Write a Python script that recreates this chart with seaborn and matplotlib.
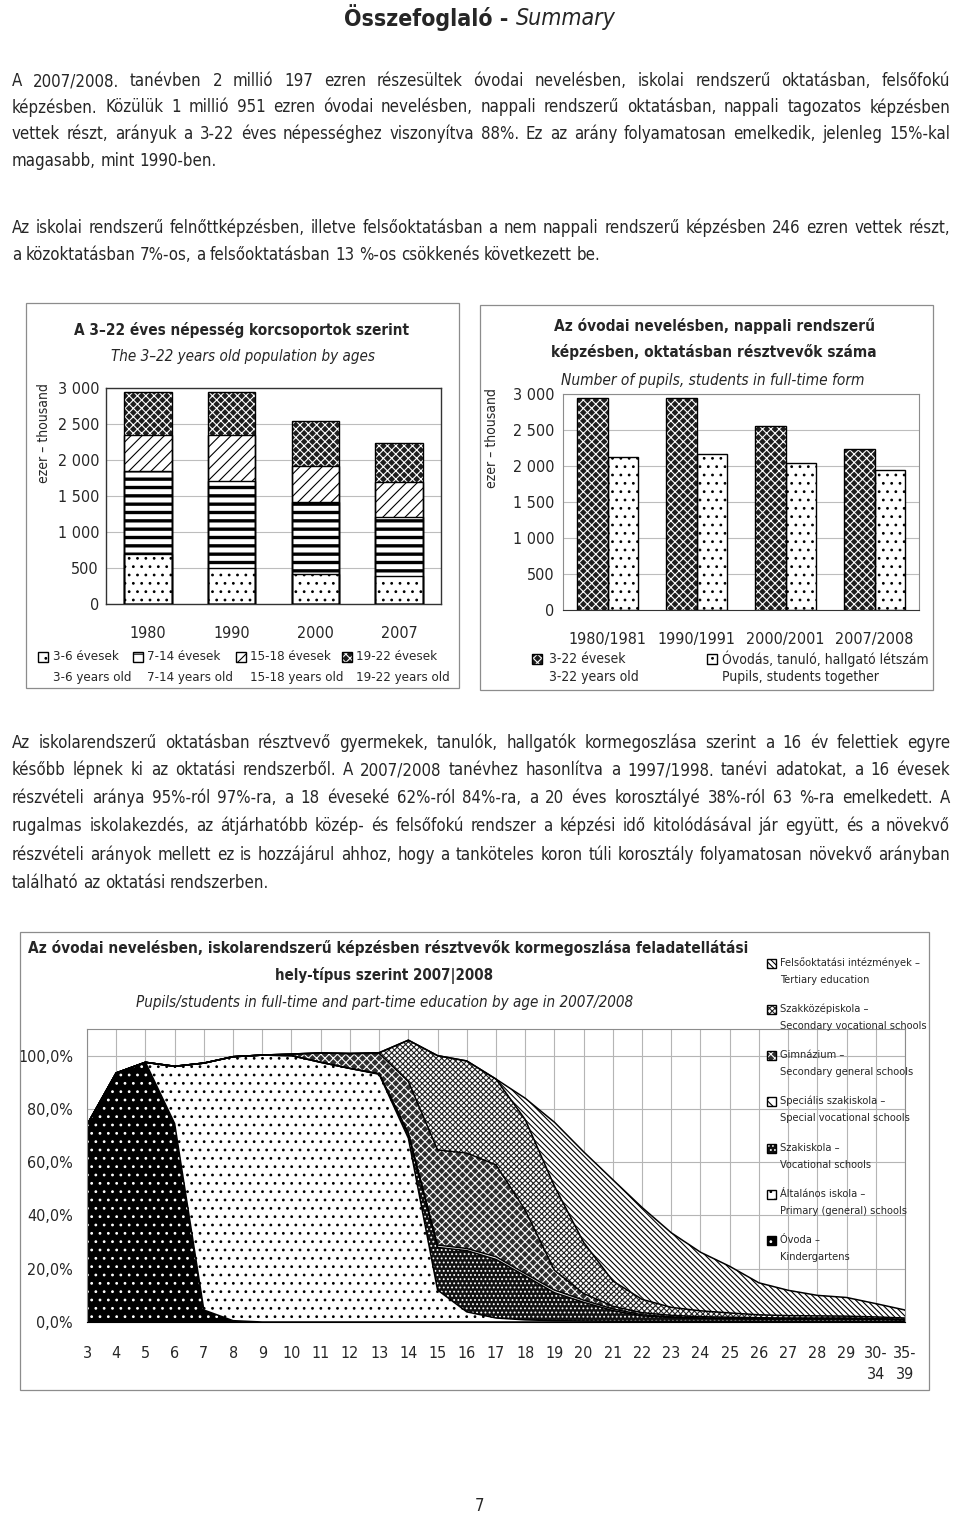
import numpy as np
import pandas as pd
import matplotlib
matplotlib.use('Agg')
import matplotlib.pyplot as plt
import matplotlib.font_manager as fm
from matplotlib.patches import Rectangle
import seaborn as sns

# oldal mérete pixelben
W, H = 960, 1515

# ---------------- adatok ----------------
# 1. ábra: 3-22 éves népesség korcsoportok szerint (ezer fő)
years = ['1980', '1990', '2000', '2007']
pop_3_6 = [697, 498, 415, 392]
pop_7_14 = [1149, 1209, 997, 822]
pop_15_18 = [508, 647, 508, 480]
pop_19_22 = [586, 586, 627, 544]

# 2. ábra: nappali rendszerű képzésben résztvevők (ezer fő)
school_years = ['1980/1981', '1990/1991', '2000/2001', '2007/2008']
pop_3_22 = [2950, 2950, 2550, 2230]
pupils_total = [2130, 2170, 2035, 1951]

# 3. ábra: kormegoszlás feladatellátási hely-típus szerint (%)
ages = ['3', '4', '5', '6', '7', '8', '9', '10', '11', '12', '13', '14', '15', '16',
        '17', '18', '19', '20', '21', '22', '23', '24', '25', '26', '27', '28', '29',
        '30-\n34', '35-\n39']
ovoda = [74, 93.5, 97.5, 74.5, 4.5, 0.5, 0, 0, 0, 0, 0, 0, 0, 0,
         0, 0, 0, 0, 0, 0, 0, 0, 0, 0, 0, 0, 0, 0, 0]
altalanos = [0, 0, 0, 21.5, 92.7, 99.1, 100.2, 100, 97.5, 95.2, 93, 69, 12, 3.8,
             1.5, 0.8, 0.5, 0.4, 0.3, 0.3, 0.3, 0.3, 0.3, 0.3, 0.3, 0.3, 0.3, 0.3, 0.2]
szakiskola = [0, 0, 0, 0, 0, 0, 0, 0, 0, 0, 0.2, 1.5, 16, 23,
              22, 16.5, 10.5, 7, 4, 2, 1.4, 1.1, 1, 0.9, 0.8, 0.8, 0.8, 0.7, 0.6]
spec_szakiskola = [0, 0, 0, 0, 0, 0, 0, 0, 0, 0, 0, 0.5, 0.9, 0.8,
                   1.0, 0.9, 1.0, 0.8, 0.6, 0.4, 0.2, 0.1, 0.1, 0.1, 0.1, 0.1, 0.1, 0.1, 0]
gimnazium = [0, 0, 0, 0, 0, 0, 0, 0.6, 3.5, 5.6, 7.6, 19.3, 35.7, 35.8,
             34.5, 23.8, 7.4, 2.5, 1.0, 0.8, 0.6, 0.5, 0.4, 0.3, 0.3, 0.3, 0.3, 0.2, 0.2]
szakkozep = [0, 0, 0, 0, 0, 0, 0, 0, 0, 0, 0.3, 15.5, 35.4, 34.6,
             32.2, 34, 31.6, 19.2, 9.5, 5, 3, 2.2, 1.6, 1.1, 0.9, 0.8, 0.7, 0.6, 0.5]
felsooktatas = [0, 0, 0, 0, 0, 0, 0, 0, 0, 0, 0, 0, 0, 0,
                0, 8, 24, 34, 38, 34.5, 28, 22, 17.5, 12, 9.5, 7.7, 7, 5, 3]

# ---------------- stílus ----------------
sns.set_style('white')
names = {f.name for f in fm.fontManager.ttflist}
if 'Liberation Sans Narrow' in names:
    plt.rcParams['font.family'] = ['Liberation Sans Narrow', 'DejaVu Sans']
else:
    plt.rcParams['font.family'] = ['DejaVu Sans']
    if any(f.name == 'DejaVu Sans' and str(f.stretch) == 'condensed' for f in fm.fontManager.ttflist):
        plt.rcParams['font.stretch'] = 'condensed'
plt.rcParams['hatch.linewidth'] = 0.8

fig = plt.figure(figsize=(W / 100, H / 100), dpi=100)
renderer = fig.canvas.get_renderer()


def fx(x):
    return x / W


def fy(y):
    return 1 - y / H


def axbox(l, t, r, b):
    return [fx(l), fy(b), (r - l) / W, (b - t) / H]


def txt(x, y, s, size=11, ha='left', va='center', **kw):
    return fig.text(fx(x), fy(y), s, fontsize=size, ha=ha, va=va, **kw)


def fit(xc, y, s, width, maxsize, **kw):
    # betűméret igazítása a célszélességhez
    t = txt(xc, y, s, 10, ha='center', **kw)
    w = t.get_window_extent(renderer).width
    t.set_fontsize(min(maxsize, 10 * width / w))
    return t


def frame(l, t, r, b, color='#8c8c8c', lw=0.9):
    fig.add_artist(Rectangle((fx(l), fy(b)), (r - l) / W, (b - t) / H,
                             transform=fig.transFigure, fill=False, ec=color, lw=lw))


def swatch(x, y, style, size=10):
    face, hatch, hc = style
    xy = (fx(x), fy(y + size / 2))
    fig.add_artist(Rectangle(xy, size / W, size / H, transform=fig.transFigure,
                             fc=face, ec=hc, hatch=hatch, lw=0))
    fig.add_artist(Rectangle(xy, size / W, size / H, transform=fig.transFigure,
                             fill=False, ec='black', lw=1))


def style_patch(p, style, hlw=None):
    face, hatch, hc = style
    p.set_facecolor(face)
    p.set_edgecolor(hc)
    p.set_hatch(hatch)
    p.set_linewidth(0)
    if hlw is not None and hasattr(p, 'set_hatch_linewidth'):
        p.set_hatch_linewidth(hlw)


def outline(ax, patches):
    for p in patches:
        ax.add_patch(Rectangle(p.get_xy(), p.get_width(), p.get_height(),
                               fill=False, ec='black', lw=1, zorder=3))


# ---------------- szövegek ----------------
par_lines = [
    "A 2007/2008. tanévben 2 millió 197 ezren részesültek óvodai nevelésben, iskolai rendszerű oktatásban, felsőfokú",
    "képzésben. Közülük 1 millió 951 ezren óvodai nevelésben, nappali rendszerű oktatásban, nappali tagozatos képzésben",
    "vettek részt, arányuk a 3-22 éves népességhez viszonyítva 88%. Ez az arány folyamatosan emelkedik, jelenleg 15%-kal",
    "magasabb, mint 1990-ben.",
]
par2_lines = [
    "Az iskolai rendszerű felnőttképzésben, illetve felsőoktatásban a nem nappali rendszerű képzésben 246 ezren vettek részt,",
    "a közoktatásban 7%-os, a felsőoktatásban 13 %-os csökkenés következett be.",
]
par3_lines = [
    "Az iskolarendszerű oktatásban résztvevő gyermekek, tanulók, hallgatók kormegoszlása szerint a 16 év felettiek egyre",
    "később lépnek ki az oktatási rendszerből. A 2007/2008 tanévhez hasonlítva a 1997/1998. tanévi adatokat, a 16 évesek",
    "részvételi aránya 95%-ról 97%-ra, a 18 éveseké 62%-ról 84%-ra, a 20 éves korosztályé 38%-ról 63 %-ra emelkedett. A",
    "rugalmas iskolakezdés, az átjárhatóbb közép- és felsőfokú rendszer a képzési idő kitolódásával jár együtt, és a növekvő",
    "részvételi arányok mellett ez is hozzájárul ahhoz, hogy a tanköteles koron túli korosztály folyamatosan növekvő arányban",
    "található az oktatási rendszerben.",
]

X0, X1 = 12, 950
# közös betűméret: a leghosszabb sor is férjen ki
probe = [txt(0, -50, s, 10) for s in par_lines + par2_lines + par3_lines]
maxw = max(t.get_window_extent(renderer).width for t in probe)
for t in probe:
    t.remove()
body_size = min(12.5, 10 * (X1 - X0) / maxw * 0.985)


def put_line(s, y, justify):
    words = s.split(' ')
    ts = [txt(X0, y, w_, body_size) for w_ in words]
    ws = [t.get_window_extent(renderer).width for t in ts]
    if justify and len(words) > 1:
        gap = (X1 - X0 - sum(ws)) / (len(words) - 1)
    else:
        gap = body_size * 100 / 72 * 0.27
    x = X0
    for t, w_ in zip(ts, ws):
        t.set_x(fx(x))
        x += w_ + gap


def paragraph(lines, ys):
    for i, (s, y) in enumerate(zip(lines, ys)):
        put_line(s, y, i < len(lines) - 1)


paragraph(par_lines, [81, 107.5, 134, 161])
paragraph(par2_lines, [228, 255])
paragraph(par3_lines, [743, 770, 798, 826, 855, 883])

# oldalcím
t1 = txt(0, 18, "Összefoglaló - ", 10, fontweight='bold')
t2 = txt(0, 18, "Summary", 10, fontstyle='italic')
w_tot = t1.get_window_extent(renderer).width + t2.get_window_extent(renderer).width
ts_ = min(21, 10 * 270 / w_tot)
t1.set_fontsize(ts_)
t2.set_fontsize(ts_)
w1 = t1.get_window_extent(renderer).width
w2 = t2.get_window_extent(renderer).width
t1.set_x(fx(480 - (w1 + w2) / 2))
t2.set_x(fx(480 - (w1 + w2) / 2 + w1))

txt(480, 1506, "7", 12, ha='center')

# ---------------- 1. ábra: halmozott oszlopok ----------------
frame(26, 303, 459, 688)
ax1 = fig.add_axes(axbox(106, 388, 441, 604))
groups = ['3-6', '7-14', '15-18', '19-22']
df_pop = pd.DataFrame({'year': years, '3-6': pop_3_6, '7-14': pop_7_14,
                       '15-18': pop_15_18, '19-22': pop_19_22})
cum = df_pop[groups].cumsum(axis=1)
styles1 = {
    '3-6': ('white', '..', 'black'),
    '7-14': ('white', '--', 'black'),
    '15-18': ('white', '///', 'black'),
    '19-22': ('#1e1e1e', 'xxxx', 'white'),
}
bars1 = []
for g in reversed(groups):
    sns.barplot(x=df_pop['year'], y=cum[g], ax=ax1, color='white', width=0.57, errorbar=None)
    for p in ax1.containers[-1]:
        style_patch(p, styles1[g], hlw=2.4 if g == '7-14' else None)
        bars1.append(p)
outline(ax1, bars1)
ax1.set_ylim(0, 3000)
ax1.set_xlim(-0.5, 3.5)
ax1.set_yticks(range(0, 3001, 500))
ax1.set_yticklabels(['0', '500', '1 000', '1 500', '2 000', '2 500', '3 000'])
ax1.set_xticks(range(4))
ax1.set_xticklabels(years)
ax1.set_xticks([-0.5, 0.5, 1.5, 2.5, 3.5], minor=True)
ax1.tick_params(axis='x', which='major', length=0, pad=16, labelsize=11.5)
ax1.tick_params(axis='x', which='minor', length=4, color='#808080', direction='out')
ax1.tick_params(axis='y', length=0, pad=5, labelsize=11.5)
ax1.set_xlabel('')
ax1.set_ylabel('')
ax1.yaxis.grid(True, color='#bdbdbd', lw=0.8)
ax1.set_axisbelow(True)
for sp in ax1.spines.values():
    sp.set_color('#333333')
    sp.set_linewidth(1)

fit(242, 330, "A 3–22 éves népesség korcsoportok szerint", 334, 13, fontweight='bold')
fit(243, 357, "The 3–22 years old population by ages", 263, 12, fontstyle='italic')
txt(44, 433, "ezer – thousand", 10, ha='center', rotation=90)

leg1_hu = ['3-6 évesek', '7-14 évesek', '15-18 évesek', '19-22 évesek']
leg1_en = ['3-6 years old', '7-14 years old', '15-18 years old', '19-22 years old']
for g, hu, en, xs, xt in zip(groups, leg1_hu, leg1_en, [38, 133, 236, 342], [53, 147, 250, 356]):
    swatch(xs, 657, styles1[g])
    txt(xt, 657, hu, 9.5)
    txt(xt, 677, en, 9.5)

# ---------------- 2. ábra: csoportosított oszlopok ----------------
frame(480, 305, 933, 690)
ax2 = fig.add_axes(axbox(563, 394, 919, 610))
df_part = pd.DataFrame({'year': school_years * 2,
                        'series': ['3-22 évesek'] * 4 + ['Óvodás, tanuló, hallgató létszám'] * 4,
                        'value': pop_3_22 + pupils_total})
sns.barplot(data=df_part, x='year', y='value', hue='series', palette=['white', 'white'],
            width=0.68, gap=0, errorbar=None, legend=False, ax=ax2)
styles2 = [('#1e1e1e', 'xxxx', 'white'), ('white', '..', 'black')]
bars2 = []
for cont, st in zip(ax2.containers, styles2):
    for p in cont:
        style_patch(p, st)
        bars2.append(p)
outline(ax2, bars2)
ax2.set_ylim(0, 3000)
ax2.set_xlim(-0.5, 3.5)
ax2.set_yticks(range(0, 3001, 500))
ax2.set_yticklabels(['0', '500', '1 000', '1 500', '2 000', '2 500', '3 000'])
ax2.set_xticks(range(4))
ax2.set_xticklabels(school_years)
ax2.set_xticks([-0.5, 0.5, 1.5, 2.5, 3.5], minor=True)
ax2.tick_params(axis='x', which='major', length=0, pad=16, labelsize=11.5)
ax2.tick_params(axis='x', which='minor', length=4, color='#808080', direction='out')
ax2.tick_params(axis='y', length=0, pad=6, labelsize=11.5)
ax2.set_xlabel('')
ax2.set_ylabel('')
ax2.yaxis.grid(True, color='#bdbdbd', lw=0.8)
ax2.set_axisbelow(True)
for sp in ax2.spines.values():
    sp.set_color('#8c8c8c')
ax2.spines['bottom'].set_color('#333333')

fit(714, 326, "Az óvodai nevelésben, nappali rendszerű", 318, 13, fontweight='bold')
fit(714, 352, "képzésben, oktatásban résztvevők száma", 325, 13, fontweight='bold')
fit(713, 380, "Number of pupils, students in full-time form", 302, 12, fontstyle='italic')
txt(492, 438, "ezer – thousand", 10, ha='center', rotation=90)

swatch(532, 659, styles2[0])
txt(549, 659, "3-22 évesek", 10)
txt(549, 677, "3-22 years old", 10)
swatch(707, 659, styles2[1])
txt(722, 659, "Óvodás, tanuló, hallgató létszám", 10)
txt(722, 677, "Pupils, students together", 10)

# ---------------- 3. ábra: halmozott terület ----------------
frame(20, 932, 929, 1390)
ax3 = fig.add_axes(axbox(87, 1029, 905, 1322))
xpos = np.arange(len(ages))
series = [ovoda, altalanos, szakiskola, spec_szakiskola, gimnazium, szakkozep, felsooktatas]
area_styles = [
    ('black', '..', 'white'),               # Óvoda
    ('white', '..', 'black'),               # Általános iskola
    ('#111111', '....', 'white'),           # Szakiskola
    ('white', '', 'black'),                 # Speciális szakiskola
    ('#2e2e2e', 'xxxx', 'white'),           # Gimnázium
    ('white', 'xxxxxx', '#222222'),         # Szakközépiskola
    ('white', '\\\\\\\\\\\\', 'black'),     # Felsőoktatás
]
polys = ax3.stackplot(xpos, *series)
for poly, st in zip(polys, area_styles):
    poly.set_facecolor(st[0])
    poly.set_edgecolor(st[2])
    poly.set_hatch(st[1])
    poly.set_linewidth(0)
for row in np.cumsum(np.array(series), axis=0):
    sns.lineplot(x=xpos, y=row, color='black', lw=1.1, ax=ax3)
ax3.set_xlim(0, len(ages) - 1)
ax3.set_ylim(0, 110)
ax3.set_yticks(range(0, 101, 20))
ax3.set_yticklabels([f"{v:.1f}%".replace('.', ',') for v in range(0, 101, 20)])
ax3.set_xticks(xpos)
ax3.set_xticklabels(ages, linespacing=1.55)
ax3.tick_params(axis='x', length=5, color='#808080', direction='out', pad=12, labelsize=11.5)
ax3.tick_params(axis='y', length=0, pad=10, labelsize=11.5)
ax3.grid(True, color='#b5b5b5', lw=0.8)
ax3.set_axisbelow(True)
for sp in ax3.spines.values():
    sp.set_color('#8c8c8c')
ax3.spines['bottom'].set_color('black')

fit(388, 948, "Az óvodai nevelésben, iskolarendszerű képzésben résztvevők kormegoszlása feladatellátási",
    715, 13.5, fontweight='bold')
fit(384, 975, "hely-típus szerint 2007|2008", 218, 13.5, fontweight='bold')
fit(385, 1002, "Pupils/students in full-time and part-time education by age in 2007/2008",
    495, 13, fontstyle='italic')

legend3 = [
    ("Felsőoktatási intézmények –", "Tertiary education", 963),
    ("Szakközépiskola –", "Secondary vocational schools", 1009),
    ("Gimnázium –", "Secondary general schools", 1055),
    ("Speciális szakiskola –", "Special vocational schools", 1101),
    ("Szakiskola –", "Vocational schools", 1148),
    ("Általános iskola –", "Primary (general) schools", 1194),
    ("Óvoda –", "Kindergartens", 1240),
]
for (hu, en, y), st in zip(legend3, reversed(area_styles)):
    swatch(767, y, st if st[1] else ('white', 'xx', 'black'), size=9)
    txt(780, y, hu, 7.9)
    txt(780, y + 17, en, 7.9)

fig.savefig('out.png', dpi=100)
